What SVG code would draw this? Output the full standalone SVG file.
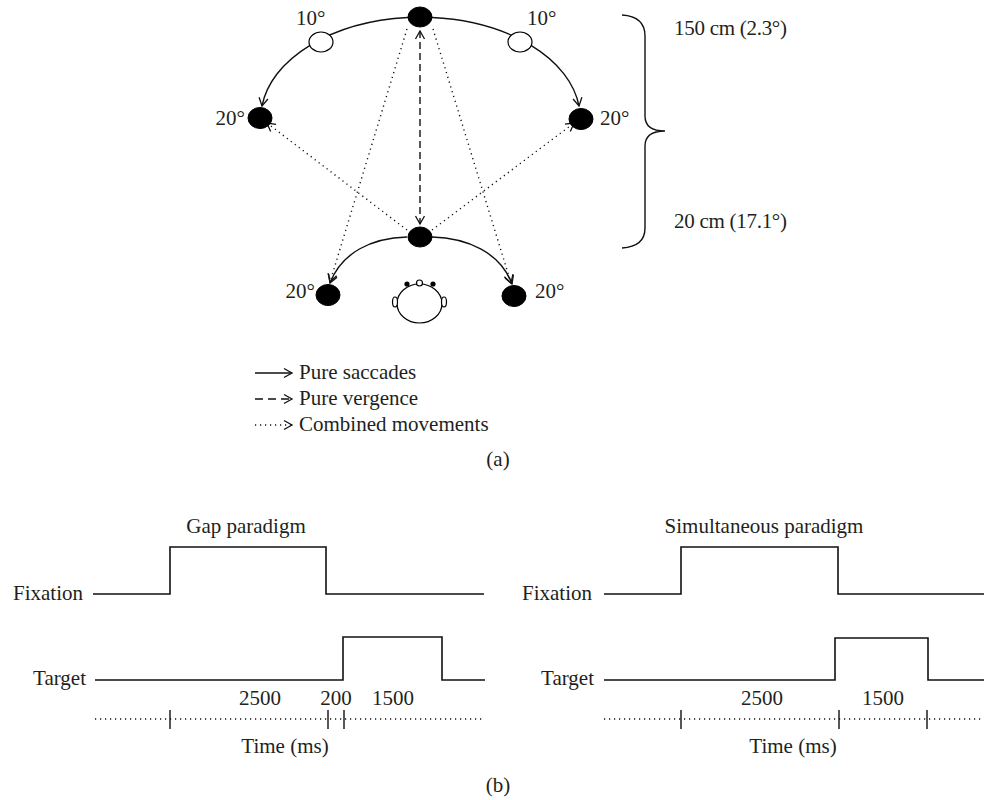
<svg xmlns="http://www.w3.org/2000/svg" width="984" height="800" viewBox="0 0 984 800">
<style>
text{font-family:"Liberation Serif","Times New Roman",serif;font-size:21px;fill:#231f20}
.ln{fill:none;stroke:#111;stroke-width:1.4}
.dash{fill:none;stroke:#111;stroke-width:1.4;stroke-dasharray:7 4}
.dot{fill:none;stroke:#111;stroke-width:1.4;stroke-dasharray:1.2 3.8}
.sig{fill:none;stroke:#111;stroke-width:1.6}
.node{fill:#000;stroke:#000;stroke-width:1}
.open{fill:#fff;stroke:#000;stroke-width:1.2}
</style>
<defs>
<marker id="ah" viewBox="0 0 12 12" markerWidth="12" markerHeight="12" refX="10" refY="6" orient="auto-start-reverse" markerUnits="userSpaceOnUse">
<path d="M2,1.5 L10,6 L2,10.5" fill="none" stroke="#111" stroke-width="1.3"/>
</marker>
</defs>

<g id="connectors">
<path class="ln" d="M408 17.5 A160 101 0 0 0 262 106" marker-end="url(#ah)"/>
<path class="ln" d="M432 17.5 A160 101 0 0 1 579 106" marker-end="url(#ah)"/>
<path class="ln" d="M407 237 C372 238 342 252 330 283" marker-end="url(#ah)"/>
<path class="ln" d="M432 237 C467 238 500 252 512 284" marker-end="url(#ah)"/>
<path class="dash" d="M420 31 L420 224" marker-start="url(#ah)" marker-end="url(#ah)"/>
<path class="dot" d="M407 29 L330 282" marker-end="url(#ah)"/>
<path class="dot" d="M433 29 L511 283" marker-end="url(#ah)"/>
<path class="dot" d="M407 230 L267 123" marker-end="url(#ah)"/>
<path class="dot" d="M432 230 L574 123" marker-end="url(#ah)"/>
</g>

<g id="node-top"><ellipse class="node" cx="420" cy="17" rx="12" ry="10"/></g>
<g id="node-10-left"><ellipse class="open" cx="321" cy="42" rx="12" ry="10"/><text x="296" y="25">10°</text></g>
<g id="node-10-right"><ellipse class="open" cx="520" cy="42" rx="12" ry="10"/><text x="527" y="25">10°</text></g>
<g id="node-20-left-far"><ellipse class="node" cx="260" cy="118" rx="12" ry="10.5"/><text x="245" y="125" text-anchor="end">20°</text></g>
<g id="node-20-right-far"><ellipse class="node" cx="581" cy="119" rx="12" ry="10.5"/><text x="600" y="125">20°</text></g>
<g id="node-bottom"><ellipse class="node" cx="420" cy="237" rx="12" ry="10"/></g>
<g id="node-20-left-near"><ellipse class="node" cx="328" cy="295" rx="12" ry="10.5"/><text x="315" y="298" text-anchor="end">20°</text></g>
<g id="node-20-right-near"><ellipse class="node" cx="514" cy="296" rx="12" ry="10.5"/><text x="535" y="298">20°</text></g>

<g id="head">
<ellipse class="open" cx="419.5" cy="303.5" rx="22.5" ry="19.5"/>
<ellipse class="open" cx="395" cy="302" rx="2.5" ry="5"/>
<ellipse class="open" cx="444" cy="302" rx="2.5" ry="5"/>
<circle cx="407" cy="284" r="2.6" fill="#000"/>
<circle cx="433" cy="284" r="2.6" fill="#000"/>
<circle class="open" cx="419.5" cy="283" r="3"/>
</g>

<g id="distance-brace">
<path class="ln" d="M622 15 C638 16 645 23 645 36 L645 116 C645 126 652 131 665 131 C652 131 645 136 645 146 L645 228 C645 240 638 247 622 248"/>
<text x="674" y="35" textLength="113">150 cm (2.3°)</text>
<text x="674" y="228" textLength="113">20 cm (17.1°)</text>
</g>

<g id="legend">
<path class="ln" d="M255 373 L292 373" marker-end="url(#ah)"/>
<path class="ln" d="M255 399 L292 399" stroke-dasharray="8 5" marker-end="url(#ah)"/>
<path class="dot" d="M255 425 L292 425" marker-end="url(#ah)"/>
<text x="299" y="379">Pure saccades</text>
<text x="299" y="405">Pure vergence</text>
<text x="299" y="431">Combined movements</text>
</g>
<text x="498" y="466" text-anchor="middle">(a)</text>

<g id="gap-paradigm">
<text x="246" y="533" text-anchor="middle">Gap paradigm</text>
<text x="83" y="600" text-anchor="end">Fixation</text>
<polyline class="sig" points="93,594 170,594 170,547 326,547 326,594 484,594"/>
<text x="86" y="685" text-anchor="end">Target</text>
<polyline class="sig" points="95,680 343,680 343,637 442,637 442,680 485,680"/>
<path class="dot" d="M95 719 L485 719"/>
<path class="ln" d="M170 710 L170 729 M328 710 L328 729 M344 710 L344 729"/>
<text x="260" y="705" text-anchor="middle">2500</text>
<text x="336" y="705" text-anchor="middle">200</text>
<text x="393" y="705" text-anchor="middle">1500</text>
<text x="285" y="753" text-anchor="middle">Time (ms)</text>
</g>

<g id="simultaneous-paradigm">
<text x="764" y="533" text-anchor="middle">Simultaneous paradigm</text>
<text x="592" y="600" text-anchor="end">Fixation</text>
<polyline class="sig" points="604,594 681,594 681,547 838,547 838,594 984,594"/>
<text x="594" y="685" text-anchor="end">Target</text>
<polyline class="sig" points="604,680 835,680 835,638 928,638 928,680 984,680"/>
<path class="dot" d="M604 719 L984 719"/>
<path class="ln" d="M681 710 L681 729 M839 710 L839 729 M927 710 L927 729"/>
<text x="762" y="705" text-anchor="middle">2500</text>
<text x="883" y="705" text-anchor="middle">1500</text>
<text x="793" y="753" text-anchor="middle">Time (ms)</text>
</g>
<text x="498" y="792" text-anchor="middle">(b)</text>
</svg>
